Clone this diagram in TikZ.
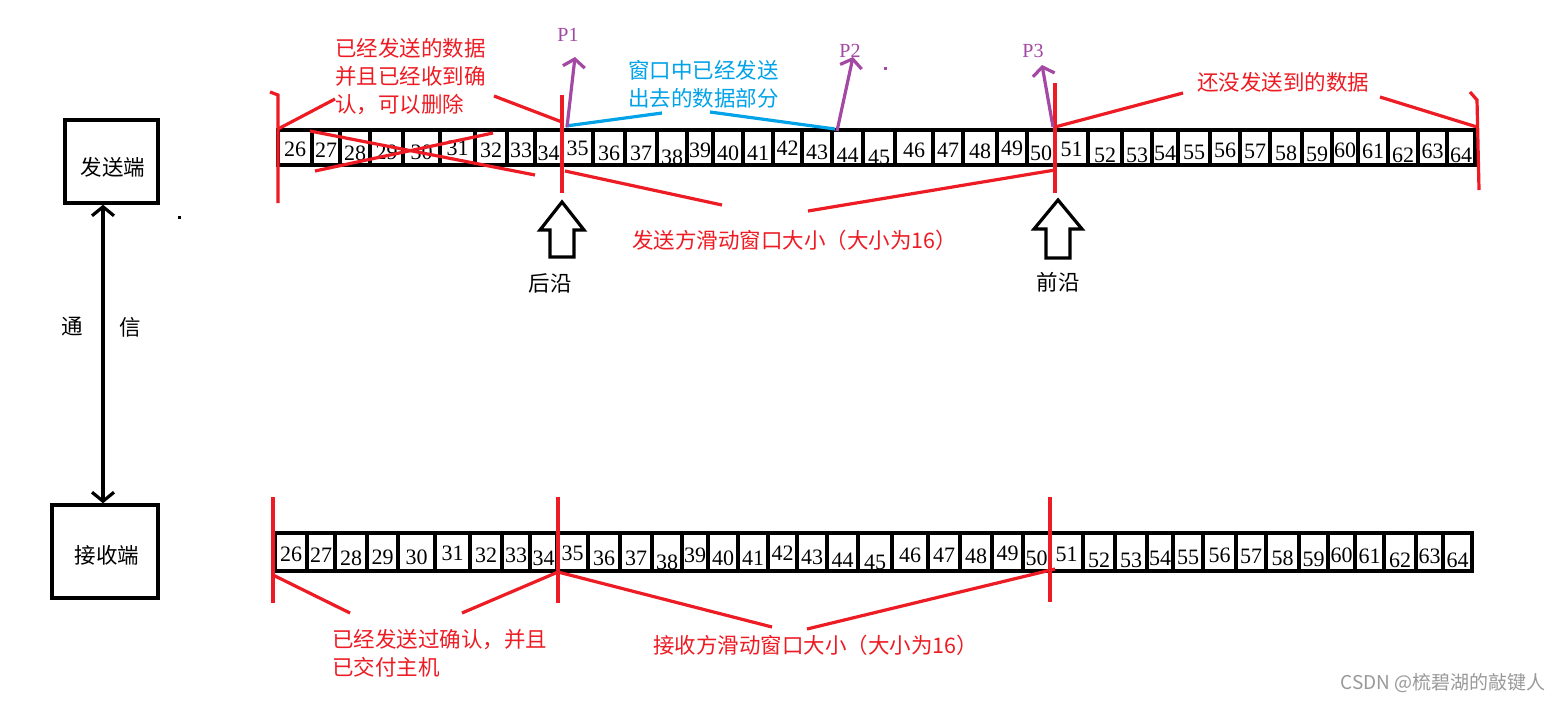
\documentclass[tikz,border=0pt]{standalone}
\usepackage{fontspec}
\setmainfont{Liberation Serif}
\newfontfamily\cjk{Noto Sans CJK SC}
\usetikzlibrary{arrows.meta}
\definecolor{mred}{HTML}{ED1C24}
\definecolor{mpurple}{HTML}{A349A4}
\definecolor{mblue}{HTML}{00A2E8}
\begin{document}
\begin{tikzpicture}[x=1pt,y=-1pt,
  cell/.style={draw, line width=3.4pt, minimum height=35pt, inner sep=0pt, outer sep=0pt, fill=white},
  num/.style={font=\fontsize{22}{22}\selectfont, inner sep=0pt},
  cn/.style={font=\cjk\fontsize{21.5}{28}\selectfont, inner sep=0pt, align=left},
  redtext/.style={cn, text=mred},
  rl/.style={mred, line width=3.2pt},
  bl/.style={mblue, line width=3.2pt},
  pl/.style={mpurple, line width=3.2pt, -{Straight Barb[length=8pt,width=22pt]}},
  plab/.style={font=\fontsize{20}{20}\selectfont, text=mpurple, inner sep=0pt},
  box/.style={draw, line width=3.4pt, inner sep=0pt},
  hollow/.style={draw, line width=3.2pt, fill=white, line join=miter}]
\useasboundingbox (0,0) rectangle (1565,702);
\fill[white] (0,0) rectangle (1565,702);

% ---------- top strip ----------
\foreach \n/\a/\b/\y in {26/278/312/149,27/312/340/150,28/340/370/153,29/370/403/152,30/403/440/152,31/440/475/148,32/475/507/150,33/507/535/150,34/535/562/153,35/562/593/148,36/593/625/153,37/625/657/153,38/657/687/157,39/687/713/150,40/713/743/153,41/743/773/153,42/773/802/148,43/802/832/152,44/832/863/155,45/863/895/157,46/895/933/150,47/933/963/150,48/963/997/151,49/997/1027/148,50/1027/1055/153,51/1055/1088/149,52/1088/1122/155,53/1122/1152/155,54/1152/1178/153,55/1178/1210/152,56/1210/1240/150,57/1240/1270/151,58/1270/1302/153,59/1302/1332/154,60/1332/1358/150,61/1358/1388/151,62/1388/1418/155,63/1418/1447/151,64/1447/1475/155}{
  \pgfmathsetmacro\w{\b-\a}
  \pgfmathsetmacro\c{(\a+\b)/2}
  \node[cell, minimum width=\w pt] (t\n) at (\c,147.5) {};
  \node[num] (tn\n) at (\c,\y) {\n};
}

% ---------- bottom strip ----------
\foreach \n/\a/\b/\y in {26/275/307/149,27/307/335/150,28/335/367/153,29/367/398/152,30/398/435/152,31/435/470/148,32/470/502/150,33/502/530/150,34/530/557/153,35/557/588/148,36/588/620/153,37/620/652/153,38/652/682/157,39/682/708/150,40/708/738/153,41/738/768/153,42/768/797/148,43/797/827/152,44/827/858/155,45/858/892/157,46/892/928/150,47/928/960/150,48/960/992/151,49/992/1023/148,50/1023/1050/153,51/1050/1083/149,52/1083/1115/155,53/1115/1147/155,54/1147/1173/153,55/1173/1203/152,56/1203/1236/150,57/1236/1266/151,58/1266/1299/153,59/1299/1328/154,60/1328/1355/150,61/1355/1384/151,62/1384/1416/155,63/1416/1443/151,64/1443/1472/155}{
  \pgfmathsetmacro\w{\b-\a}
  \pgfmathsetmacro\c{(\a+\b)/2}
  \pgfmathsetmacro\yy{\y+405}
  \node[cell, minimum width=\w pt, minimum height=38pt] (b\n) at (\c,552) {};
  \node[num] (bn\n) at (\c,\yy) {\n};
}

% ---------- left boxes ----------
\node[box, minimum width=93pt, minimum height=83pt] (send) at (111.5,161.5) {};
\node[cn] (sendt) at (113,167) {发送端};
\node[box, minimum width=106pt, minimum height=93pt] (recv) at (105,551.5) {};
\node[cn] (recvt) at (107,555) {接收端};
\coordinate (ax) at (103,0);
\draw[line width=3.2pt, {Straight Barb[length=9pt,width=22pt]}-{Straight Barb[length=9pt,width=22pt]}] (send.south -| ax) -- (recv.north -| ax);
\node[cn] (tong) at (72,327) {通};
\node[cn] (xin) at (130,327) {信};
\fill (177.5,215.5) rectangle (180.5,218.5);

% ---------- top red annotation lines ----------
\coordinate (v1a) at (270,92); \coordinate (v1b) at (278,95); \coordinate (v1c) at (278,203);
\draw[rl] (v1a) -- (v1b) -- (v1c);
\coordinate (v2a) at (562,95); \coordinate (v2b) at (562,193);
\draw[rl] (v2a) -- (v2b);
\coordinate (v3a) at (1055,83); \coordinate (v3b) at (1055,193);
\draw[rl] (v3a) -- (v3b);
\coordinate (v4a) at (1470,92); \coordinate (v4b) at (1477,100); \coordinate (v4c) at (1479,190);
\draw[rl] (v4a) -- (v4b) -- (v4c);

\node[redtext, anchor=west] (deleted) at (335,77) {已经发送的数据\\并且已经收到确\\认，可以删除};
\coordinate (d1a) at (278,129); \coordinate (d1b) at (335,99);
\coordinate (d2a) at (494,96);  \coordinate (d2b) at (562,122);
\draw[rl] (d1a) -- (d1b);
\draw[rl] (d2a) -- (d2b);
\coordinate (x1a) at (310,131); \coordinate (x1b) at (535,175);
\coordinate (x2a) at (315,171); \coordinate (x2b) at (493,133);
\draw[rl] (x1a) -- (x1b);
\draw[rl] (x2a) -- (x2b);

\node[redtext, anchor=center] (notsent) at (1283,82) {还没发送到的数据};
\coordinate (n1a) at (1055,127); \coordinate (n1b) at (1183,93);
\coordinate (n2a) at (1380,97);  \coordinate (n2b) at (1477,127);
\draw[rl] (n1a) -- (n1b);
\draw[rl] (n2a) -- (n2b);

\node[redtext, anchor=west] (swin) at (632,240) {发送方滑动窗口大小（大小为16）};
\coordinate (s1a) at (565,171); \coordinate (s1b) at (722,205);
\coordinate (s2a) at (808,211); \coordinate (s2b) at (1055,170);
\draw[rl] (s1a) -- (s1b);
\draw[rl] (s2a) -- (s2b);

% ---------- blue annotation ----------
\node[cn, text=mblue, anchor=west] (sentpart) at (628,84) {窗口中已经发送\\出去的数据部分};
\coordinate (b1a) at (566,126); \coordinate (b1b) at (662,113);
\coordinate (b2a) at (710,112); \coordinate (b2b) at (835,129);
\draw[bl] (b1a) -- (b1b);
\draw[bl] (b2a) -- (b2b);

% ---------- purple pointers ----------
\coordinate (p1s) at (567,127); \coordinate (p1e) at (575,57);
\coordinate (p2s) at (837,131); \coordinate (p2e) at (853,57);
\coordinate (p3s) at (1053,127); \coordinate (p3e) at (1042,65);
\draw[pl] (p1s) -- (p1e);
\draw[pl] (p2s) -- (p2e);
\draw[pl] (p3s) -- (p3e);
\node[plab] (P1) at (568,35) {P1};
\node[plab] (P2) at (850,51) {P2};
\node[plab] (P3) at (1033,51) {P3};
\fill[mpurple] (883.5,66.5) rectangle (886.5,69.5);

% ---------- hollow arrows ----------
\draw[hollow] (562,202) -- (584,230) -- (574,230) -- (574,257) -- (550,257) -- (550,230) -- (540,230) -- cycle;
\draw[hollow] (1058,200) -- (1082,229) -- (1070,229) -- (1070,258) -- (1046,258) -- (1046,229) -- (1034,229) -- cycle;
\node[cn] (rear) at (550,283) {后沿};
\node[cn] (front) at (1058,282) {前沿};

% ---------- bottom red annotation ----------
\coordinate (r1a) at (273,497); \coordinate (r1b) at (273,603);
\coordinate (r2a) at (558,497); \coordinate (r2b) at (558,603);
\coordinate (r3a) at (1050,497); \coordinate (r3b) at (1050,602);
\draw[rl] (r1a) -- (r1b);
\draw[rl] (r2a) -- (r2b);
\draw[rl] (r3a) -- (r3b);
\node[redtext, anchor=west] (delivered) at (332,653) {已经发送过确认，并且\\已交付主机};
\coordinate (q1a) at (273,575); \coordinate (q1b) at (350,613);
\coordinate (q2a) at (462,613); \coordinate (q2b) at (558,572);
\draw[rl] (q1a) -- (q1b);
\draw[rl] (q2a) -- (q2b);
\node[redtext, anchor=west] (rwin) at (653,645) {接收方滑动窗口大小（大小为16）};
\coordinate (q3a) at (558,572); \coordinate (q3b) at (772,627);
\coordinate (q4a) at (807,629); \coordinate (q4b) at (1055,569);
\draw[rl] (q3a) -- (q3b);
\draw[rl] (q4a) -- (q4b);

% ---------- watermark ----------
\node[font=\cjk\fontsize{19}{19}\selectfont, text=black!40, inner sep=0pt] (wm) at (1443,683) {CSDN @梳碧湖的敲键人};
\end{tikzpicture}
\end{document}
